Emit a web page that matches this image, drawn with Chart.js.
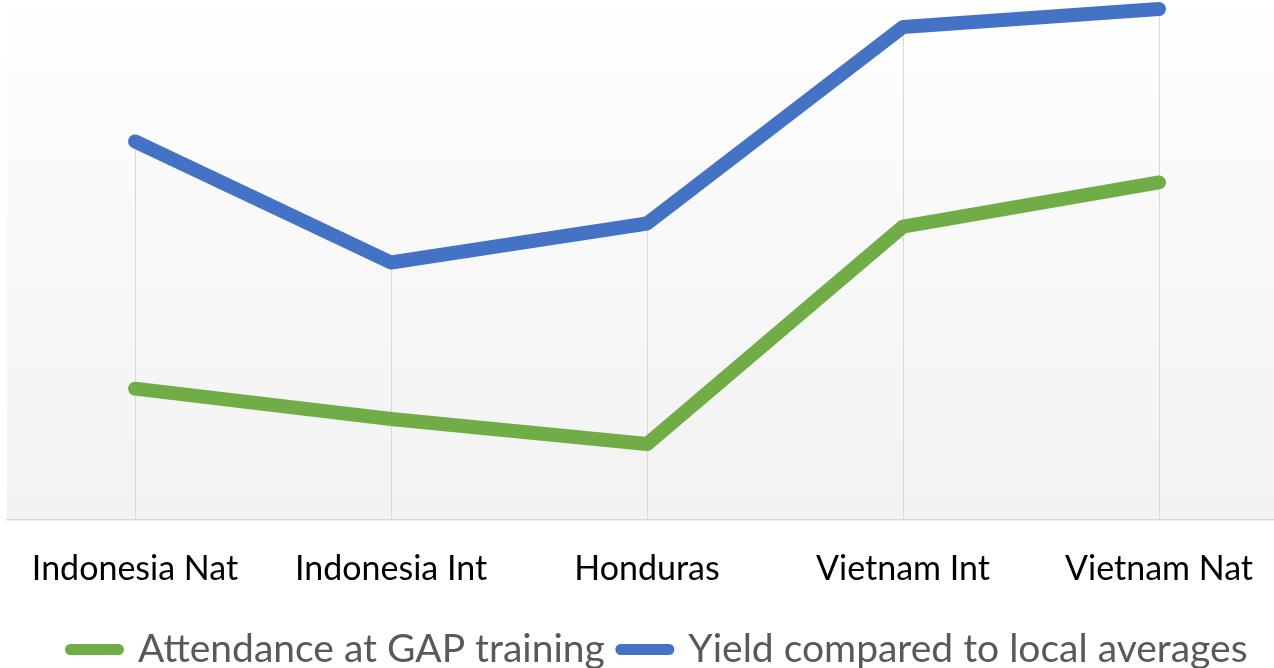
<!DOCTYPE html>
<html>
<head>
<meta charset="utf-8">
<script src="https://cdn.jsdelivr.net/npm/chart.js@4.4.1/dist/chart.umd.min.js"></script>
<style>
  html, body { margin: 0; padding: 0; background: #ffffff; overflow: hidden; }
  #wrap { width: 1288px; height: 679px; }
</style>
</head>
<body>
<div id="wrap"><canvas id="chart" width="1288" height="679"></canvas></div>
<script>
const categories = ["Indonesia Nat", "Indonesia Int", "Honduras", "Vietnam Int", "Vietnam Nat"];
const attendance = [25.6, 19.7, 14.8, 57.2, 65.8];
const yieldVsLocal = [73.8, 50.2, 57.8, 96.1, 99.6];

// plot area gradient, drawn behind everything
const plotBackground = {
  id: "plotBackground",
  beforeDraw(chart) {
    const { ctx, chartArea: a } = chart;
    const g = ctx.createLinearGradient(0, a.top, 0, a.bottom);
    g.addColorStop(0, "#fefefe");
    g.addColorStop(1, "#f2f2f2");
    ctx.save();
    ctx.fillStyle = g;
    ctx.fillRect(a.left, a.top, a.right - a.left, a.bottom - a.top);
    ctx.restore();
  }
};

// drop lines from the highest point of each category down to the axis
const dropLines = {
  id: "dropLines",
  beforeDatasetsDraw(chart) {
    const { ctx, chartArea: a, scales } = chart;
    ctx.save();
    ctx.strokeStyle = "#d9d9d9";
    ctx.lineWidth = 1;
    categories.forEach((c, i) => {
      const top = Math.max(...chart.data.datasets.map(d => d.data[i]));
      const x = Math.round(scales.x.getPixelForValue(i)) + 0.5;
      ctx.beginPath();
      ctx.moveTo(x, scales.y.getPixelForValue(top));
      ctx.lineTo(x, a.bottom);
      ctx.stroke();
    });
    ctx.restore();
  }
};

// nudge the legend a little right, the plot runs past the window edge
const legendShift = {
  id: "legendShift",
  afterLayout(chart) {
    chart.legend.left += 12;
    chart.legend.right += 12;
  }
};

new Chart(document.getElementById("chart"), {
  type: "line",
  data: {
    labels: categories,
    datasets: [{
      label: "Attendance at GAP training",
      data: attendance,
      borderColor: "#70ad47",
      backgroundColor: "#70ad47",
      borderWidth: 14,
      borderCapStyle: "round",
      borderJoinStyle: "round",
      pointRadius: 0,
      tension: 0,
      clip: false
    }, {
      label: "Yield compared to local averages",
      data: yieldVsLocal,
      borderColor: "#4472c4",
      backgroundColor: "#4472c4",
      borderWidth: 14,
      borderCapStyle: "round",
      borderJoinStyle: "round",
      pointRadius: 0,
      tension: 0,
      clip: false
    }]
  },
  options: {
    responsive: false,
    animation: false,
    layout: { padding: { left: 7, right: 1, top: 7, bottom: 0 } },
    plugins: {
      tooltip: { enabled: false },
      legend: {
        position: "bottom",
        labels: {
          usePointStyle: true,
          pointStyle: "line",
          pointStyleWidth: 48,
          color: "#595959",
          font: { family: "Lato", size: 39 },
          padding: 16,
          generateLabels(chart) {
            const items = Chart.defaults.plugins.legend.labels.generateLabels(chart);
            items.forEach(it => {
              it.lineCap = "round";
              it.lineWidth = 11;
            });
            return items;
          }
        }
      }
    },
    scales: {
      x: {
        offset: true,
        grid: { display: false, drawTicks: false },
        border: { display: true, color: "#d9d9d9", width: 1.5 },
        ticks: {
          color: "#000000",
          font: { family: "Lato", size: 34 },
          padding: 29,
          maxRotation: 0,
          autoSkip: false
        },
        afterFit(scale) { scale.height = 94; }
      },
      y: {
        display: false,
        min: 0,
        max: 100
      }
    }
  },
  plugins: [plotBackground, dropLines, legendShift]
});
</script>
</body>
</html>
